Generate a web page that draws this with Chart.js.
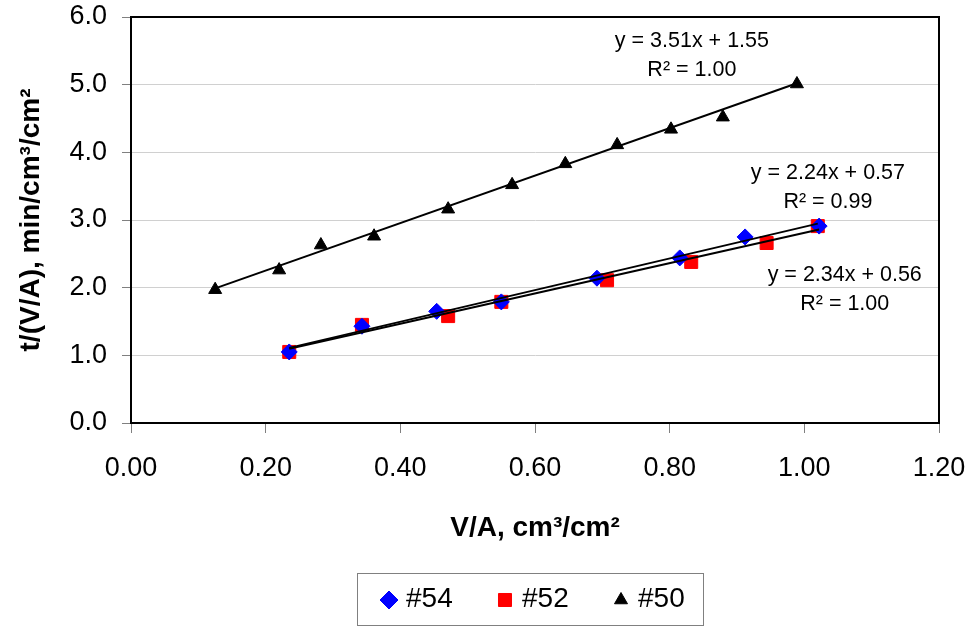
<!DOCTYPE html>
<html><head><meta charset="utf-8">
<script src="https://cdn.jsdelivr.net/npm/chart.js@4.4.1/dist/chart.umd.min.js"></script>
<style>html,body{margin:0;padding:0;background:#fff;}#wrap{width:969px;height:627px;}</style>
</head><body><div id="wrap"><canvas id="c" width="969" height="627"></canvas></div>
<script>
// ---- data ----
const seriesNames = ['#54', '#52', '#50'];
const x54 = [0.235, 0.343, 0.454, 0.550, 0.692, 0.815, 0.912, 1.022];
const y54 = [1.05, 1.43, 1.65, 1.79, 2.14, 2.44, 2.75, 2.91];
const x52 = [0.235, 0.343, 0.471, 0.550, 0.707, 0.832, 0.944, 1.020];
const y52 = [1.05, 1.45, 1.58, 1.79, 2.11, 2.38, 2.66, 2.91];
const x50 = [0.125, 0.220, 0.282, 0.361, 0.471, 0.566, 0.645, 0.722, 0.802, 0.879, 0.989];
const y50 = [1.97, 2.26, 2.63, 2.76, 3.16, 3.52, 3.83, 4.11, 4.34, 4.52, 5.01];
const fitSlope = [2.24, 2.34, 3.51];
const fitIntercept = [0.57, 0.56, 1.55];
const fitR2 = ['0.99', '1.00', '1.00'];
const xTickLabels = ['0.00', '0.20', '0.40', '0.60', '0.80', '1.00', '1.20'];
const yTickLabels = ['0.0', '1.0', '2.0', '3.0', '4.0', '5.0', '6.0'];
const xTitle = 'V/A, cm\u00B3/cm\u00B2';
const yTitle = 't/(V/A), min/cm\u00B3/cm\u00B2';
// equation label anchors (data units) for each fit
const eqAnchorX = [1.035, 1.06, 0.833];
const eqAnchorY = [3.69, 2.19, 5.645];

const xs = [x54, x52, x50];
const ys = [y54, y52, y50];
const colors = ['#0000FF', '#FF0000', '#000000'];
const styles = ['rectRot', 'rect', 'triangle'];
const radii = [8, 9.2, 7.5];
const FONT = '"Liberation Sans", Arial, sans-serif';

const datasets = [];
for (let i = 0; i < 3; i++) {
  datasets.push({
    label: seriesNames[i],
    data: xs[i].map((v, k) => ({x: v, y: ys[i][k]})),
    pointStyle: styles[i], pointRadius: radii[i], pointHoverRadius: radii[i],
    backgroundColor: colors[i], borderColor: colors[i], pointBorderWidth: 1,
    showLine: false, order: 2
  });
}
for (let i = 0; i < 3; i++) {
  const x0 = Math.min(...xs[i]), x1 = Math.max(...xs[i]);
  datasets.push({
    label: 'fit ' + seriesNames[i],
    data: [{x: x0, y: fitSlope[i] * x0 + fitIntercept[i]}, {x: x1, y: fitSlope[i] * x1 + fitIntercept[i]}],
    showLine: true, borderColor: '#000', borderWidth: 2, pointRadius: 0, order: 1
  });
}

const overlay = {
  id: 'overlay',
  afterDraw(chart) {
    const {ctx, chartArea: a, scales: {x, y}} = chart;
    ctx.save();
    // plot frame
    ctx.strokeStyle = '#000'; ctx.lineWidth = 2;
    ctx.strokeRect(a.left, a.top, a.right - a.left, a.bottom - a.top);
    // equation labels
    ctx.fillStyle = '#000';
    ctx.font = '21.5px ' + FONT;
    ctx.textAlign = 'center'; ctx.textBaseline = 'middle';
    for (let i = 0; i < 3; i++) {
      const px = x.getPixelForValue(eqAnchorX[i]);
      const py = y.getPixelForValue(eqAnchorY[i]);
      ctx.fillText('y = ' + fitSlope[i].toFixed(2) + 'x + ' + fitIntercept[i].toFixed(2), px, py);
      ctx.fillText('R\u00B2 = ' + fitR2[i], px, py + 29);
    }
    // legend
    const lx = 357.5, ly = 573.5, lw = 346, lh = 52;
    ctx.strokeStyle = '#808080'; ctx.lineWidth = 1;
    ctx.strokeRect(lx, ly, lw, lh);
    const itemX = [389, 505, 621];
    const legR = [9, 9.2, 7.5];
    ctx.font = '28px ' + FONT;
    ctx.textAlign = 'left';
    for (let i = 0; i < 3; i++) {
      ctx.fillStyle = colors[i]; ctx.strokeStyle = colors[i]; ctx.lineWidth = 1;
      Chart.helpers.drawPoint(ctx, {pointStyle: styles[i], radius: legR[i], rotation: 0, borderWidth: 1}, itemX[i], 600);
      ctx.fillStyle = '#000';
      ctx.fillText(seriesNames[i], itemX[i] + 17, 599);
    }
    ctx.restore();
  }
};

new Chart(document.getElementById('c'), {
  type: 'scatter',
  data: {datasets},
  plugins: [overlay],
  options: {
    responsive: false, animation: false, devicePixelRatio: 1,
    layout: {padding: {left: 0, top: 17, right: 30, bottom: 67}},
    plugins: {legend: {display: false}, tooltip: {enabled: false}},
    scales: {
      x: {
        type: 'linear', min: 0, max: 1.2,
        afterFit(s) { s.height = 137; s.paddingLeft = 0; s.paddingRight = 0; },
        ticks: {stepSize: 0.2, color: '#000', font: {family: FONT, size: 27}, padding: 19,
          callback: (v) => xTickLabels[Math.round(v / 0.2)]},
        grid: {drawOnChartArea: false, drawTicks: true, tickLength: 10, tickColor: '#808080'},
        border: {display: true, color: '#000', width: 2},
        title: {display: true, text: xTitle, color: '#000', font: {family: FONT, size: 28, weight: 'bold'}, padding: {top: 0, bottom: 15}}
      },
      y: {
        type: 'linear', min: 0, max: 6,
        afterFit(s) { s.width = 131; s.paddingTop = 0; s.paddingBottom = 0; },
        ticks: {stepSize: 1, color: '#000', font: {family: FONT, size: 27}, padding: 15,
          callback: (v) => yTickLabels[Math.round(v)]},
        grid: {color: '#d0d0d0', lineWidth: 1, tickLength: 9, tickColor: '#808080'},
        border: {display: true, color: '#000', width: 2},
        title: {display: true, text: yTitle, color: '#000', font: {family: FONT, size: 28, weight: 'bold'}, padding: {top: 14, bottom: 0}}
      }
    }
  }
});
</script></body></html>
